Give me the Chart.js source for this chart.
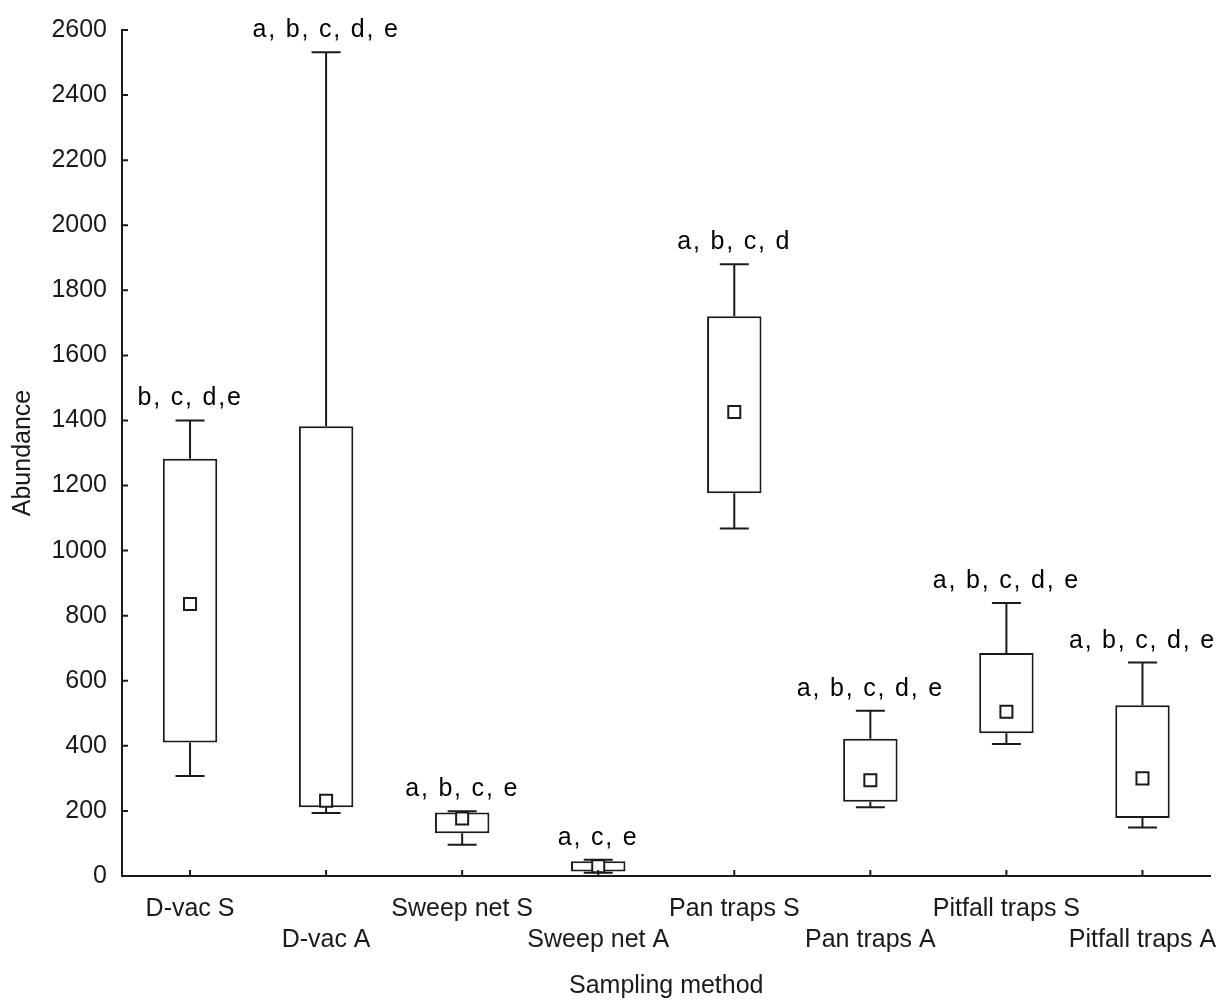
<!DOCTYPE html>
<html>
<head>
<meta charset="utf-8">
<title>Abundance by sampling method</title>
<script src="https://cdn.jsdelivr.net/npm/chart.js@4.4.1/dist/chart.umd.min.js"></script>
<style>
  body { margin: 0; background: #fff; }
  #wrap { width: 1221px; height: 1001px; }
</style>
</head>
<body>
<div id="wrap"><canvas id="boxChart" width="1221" height="1001"></canvas></div>
<script>
// values
const categories = ['D-vac S', 'D-vac A', 'Sweep net S', 'Sweep net A', 'Pan traps S', 'Pan traps A', 'Pitfall traps S', 'Pitfall traps A'];
const whiskerMin = [307, 194, 96, 10, 1068, 211, 406, 149];
const q1 = [410, 211, 131, 14, 1176, 228, 439, 178];
const medians = [836, 231, 177, 30, 1426, 294, 505, 300];
const q3 = [1282, 1382, 195, 45, 1720, 422, 685, 525];
const whiskerMax = [1400, 2532, 199, 50, 1880, 508, 839, 656];
const groupLetters = ['b, c, d,e', 'a, b, c, d, e', 'a, b, c, e', 'a, c, e', 'a, b, c, d', 'a, b, c, d, e', 'a, b, c, d, e', 'a, b, c, d, e'];
const yTicks = [0, 200, 400, 600, 800, 1000, 1200, 1400, 1600, 1800, 2000, 2200, 2400, 2600];

const FONT = "'Liberation Sans', Arial, sans-serif";
const INK = '#1a1a1a';

// whiskers + letters above each box
const whiskerPlugin = {
    id: 'whiskers',
    afterDatasetDraw(chart, args) {
        if (args.index !== 0) return;
        const ctx = chart.ctx;
        const y = chart.scales.y;
        const meta = chart.getDatasetMeta(0);
        ctx.save();
        ctx.strokeStyle = INK;
        ctx.lineWidth = 2;
        meta.data.forEach((bar, i) => {
            const x = bar.x;
            const half = 14.5;
            const yTop = y.getPixelForValue(whiskerMax[i]);
            const yQ3 = y.getPixelForValue(q3[i]);
            const yQ1 = y.getPixelForValue(q1[i]);
            const yBot = y.getPixelForValue(whiskerMin[i]);
            ctx.beginPath();
            ctx.moveTo(x, yQ3); ctx.lineTo(x, yTop);
            ctx.moveTo(x - half, yTop); ctx.lineTo(x + half, yTop);
            ctx.moveTo(x, yQ1); ctx.lineTo(x, yBot);
            ctx.moveTo(x - half, yBot); ctx.lineTo(x + half, yBot);
            ctx.stroke();
        });
        ctx.restore();
    },
    afterDraw(chart) {
        const ctx = chart.ctx;
        const x = chart.scales.x;
        const y = chart.scales.y;
        const meta = chart.getDatasetMeta(0);
        ctx.save();
        ctx.fillStyle = '#000';
        ctx.font = '25px ' + FONT;
        ctx.letterSpacing = '1.8px';
        ctx.textAlign = 'center';
        ctx.textBaseline = 'alphabetic';
        meta.data.forEach((bar, i) => {
            ctx.fillText(groupLetters[i], bar.x, y.getPixelForValue(whiskerMax[i]) - 15);
        });
        ctx.restore();

        // inward tick marks
        ctx.save();
        ctx.strokeStyle = INK;
        ctx.lineWidth = 2;
        ctx.beginPath();
        y.ticks.forEach((t, i) => {
            const py = y.getPixelForTick(i);
            ctx.moveTo(y.right, py); ctx.lineTo(y.right + 6, py);
        });
        x.ticks.forEach((t, i) => {
            const px = x.getPixelForTick(i);
            ctx.moveTo(px, x.top); ctx.lineTo(px, x.top - 6);
        });
        ctx.stroke();
        ctx.restore();
    }
};

const boxData = categories.map((c, i) => [q1[i], q3[i]]);

new Chart(document.getElementById('boxChart'), {
    type: 'bar',
    data: {
        labels: categories,
        datasets: [{
            label: 'Box',
            data: boxData,
            order: 2,
            backgroundColor: '#fff',
            borderColor: INK,
            borderWidth: 2,
            borderSkipped: false,
            barPercentage: 0.4,
            categoryPercentage: 1
        }, {
            type: 'line',
            label: 'Median',
            data: medians,
            order: 1,
            showLine: false,
            pointStyle: 'rect',
            pointRadius: 8.5,
            pointBackgroundColor: '#fff',
            pointBorderColor: INK,
            pointBorderWidth: 2
        }]
    },
    options: {
        responsive: false,
        animation: false,
        layout: { padding: { top: 28, right: 10, left: 0, bottom: 0 } },
        plugins: {
            legend: { display: false },
            tooltip: { enabled: false }
        },
        scales: {
            x: {
                offset: true,
                grid: { display: false, drawTicks: false },
                border: { display: true, color: INK, width: 2 },
                ticks: {
                    color: INK,
                    font: { family: FONT, size: 25, lineHeight: 1.24 },
                    padding: 18,
                    maxRotation: 0,
                    autoSkip: false,
                    callback: (v, i) => i % 2 === 0 ? [categories[i], ''] : ['', categories[i]]
                },
                title: {
                    display: true,
                    text: 'Sampling method',
                    color: INK,
                    font: { family: FONT, size: 25 },
                    padding: { top: 6, bottom: 0 }
                },
                afterFit: s => {
                    s.height = 1001 - 876;
                    s.paddingLeft = 0;
                    s.paddingRight = 0;
                }
            },
            y: {
                min: 0,
                max: 2600,
                grid: { display: false, drawTicks: false },
                border: { display: true, color: INK, width: 2 },
                afterBuildTicks: s => { s.ticks = yTicks.map(v => ({ value: v })); },
                ticks: {
                    color: INK,
                    font: { family: FONT, size: 25 },
                    padding: 15,
                    callback: v => String(v)
                },
                title: {
                    display: true,
                    text: 'Abundance',
                    color: INK,
                    font: { family: FONT, size: 25 },
                    padding: { top: 8, bottom: 0 }
                },
                afterFit: s => { s.width = 122; }
            }
        }
    },
    plugins: [whiskerPlugin]
});
</script>
</body>
</html>
